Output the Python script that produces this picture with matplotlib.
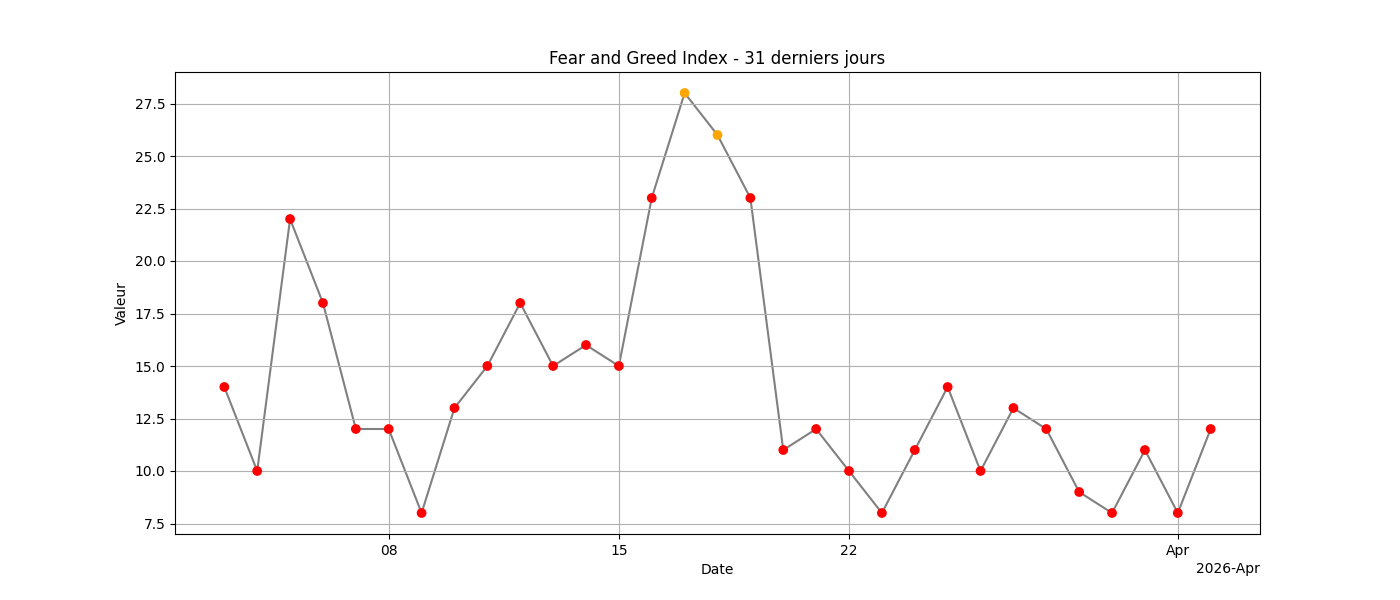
import matplotlib
matplotlib.use("Agg")
import matplotlib.pyplot as plt
import matplotlib.dates as mdates
import pandas as pd

dates = pd.date_range("2026-03-03", "2026-04-02", freq="D")
values = [14, 10, 22, 18, 12, 12, 8, 13, 15, 18, 15, 16, 15, 23, 28, 26, 23,
          11, 12, 10, 8, 11, 14, 10, 13, 12, 9, 8, 11, 8, 12]
colors = ["red" if v < 25 else "orange" for v in values]

fig, ax = plt.subplots(figsize=(14, 6), dpi=100)
ax.plot(dates, values, color="gray", zorder=1)
ax.scatter(dates, values, c=colors, zorder=2)
loc = mdates.DayLocator(bymonthday=[1, 8, 15, 22])
ax.xaxis.set_major_locator(loc)
ax.xaxis.set_major_formatter(mdates.ConciseDateFormatter(loc))
ax.set_title("Fear and Greed Index - 31 derniers jours")
ax.set_xlabel("Date")
ax.set_ylabel("Valeur")
ax.grid(True)
fig.savefig("out.png")
